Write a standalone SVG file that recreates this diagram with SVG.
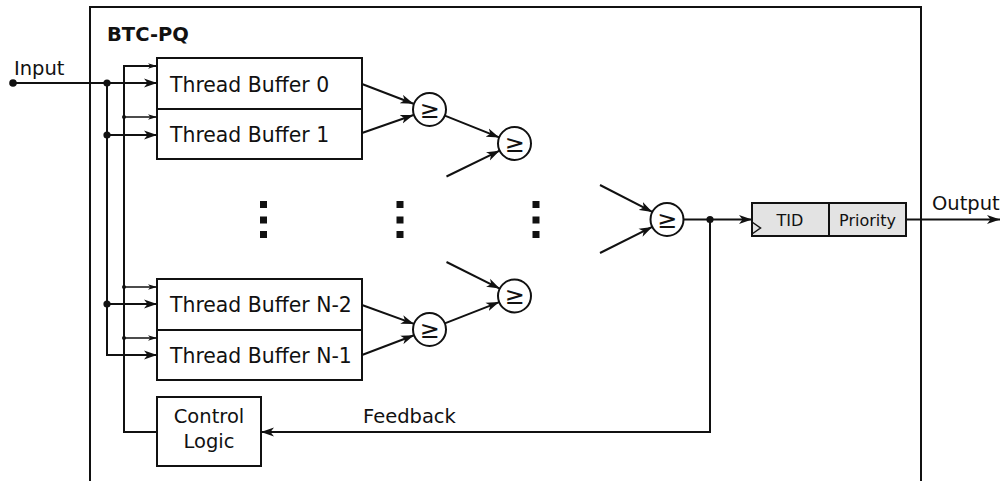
<svg xmlns="http://www.w3.org/2000/svg" width="1006" height="481" viewBox="0 0 1006 481">
  <style>
    .ln { fill: none; stroke: #111; stroke-width: 2; }
    .thin { fill: none; stroke: #111; stroke-width: 1.5; }
    .box { fill: #fff; stroke: #111; stroke-width: 2; }
    .reg { fill: #e3e3e3; stroke: #111; stroke-width: 2; }
    .cmp { fill: #fff; stroke: #111; stroke-width: 2; }
    .t { font-family: "DejaVu Sans", "Liberation Sans", sans-serif; font-size: 19.5px; fill: #111; }
    .tb { font-family: "DejaVu Sans", "Liberation Sans", sans-serif; font-size: 20.4px; fill: #111; }
    .ts { font-family: "DejaVu Sans", "Liberation Sans", sans-serif; font-size: 16px; fill: #111; }
    .ge { font-family: "DejaVu Sans", "Liberation Sans", sans-serif; font-size: 24px; fill: #111; }
    .b { font-weight: bold; }
    .dot { fill: #111; }
  </style>
  <defs>
    <marker id="arr" markerUnits="userSpaceOnUse" markerWidth="14" markerHeight="10" refX="13" refY="5" orient="auto">
      <path d="M0,0.5 L13,5 L0,9.5 L3.5,5 z" fill="#111"/>
    </marker>
    <marker id="arrS" markerUnits="userSpaceOnUse" markerWidth="10" markerHeight="7" refX="9" refY="3.5" orient="auto">
      <path d="M0,0.8 L9,3.5 L0,6.2 L2.5,3.5 z" fill="#111"/>
    </marker>
  </defs>

  <!-- enclosing BTC-PQ block (open at the bottom) -->
  <path class="ln" d="M90,481 V7 H921 V481"/>
  <text class="t b" x="107" y="41">BTC-PQ</text>

  <!-- thread buffers -->
  <g id="tb0"><rect class="box" x="157" y="58" width="205" height="51"/><text class="tb" x="170" y="91.5">Thread Buffer 0</text></g>
  <g id="tb1"><rect class="box" x="157" y="109" width="205" height="50"/><text class="tb" x="170" y="142">Thread Buffer 1</text></g>
  <g id="tbn2"><rect class="box" x="157" y="279" width="205" height="51"/><text class="tb" x="170" y="312">Thread Buffer N-2</text></g>
  <g id="tbn1"><rect class="box" x="157" y="330" width="205" height="50"/><text class="tb" x="170" y="362.5">Thread Buffer N-1</text></g>

  <!-- control logic -->
  <g id="ctrl">
    <rect class="box" x="157" y="397" width="104" height="69"/>
    <text class="t" x="209" y="423" text-anchor="middle">Control</text>
    <text class="t" x="209" y="448" text-anchor="middle">Logic</text>
  </g>

  <!-- comparators -->
  <g id="cmp1"><circle class="cmp" cx="429.5" cy="109.5" r="16.5"/><text class="ge" x="429.5" y="117.5" text-anchor="middle">≥</text></g>
  <g id="cmp2"><circle class="cmp" cx="514.5" cy="143.5" r="16.5"/><text class="ge" x="514.5" y="151.5" text-anchor="middle">≥</text></g>
  <g id="cmp3"><circle class="cmp" cx="429.5" cy="329.5" r="16.5"/><text class="ge" x="429.5" y="337.5" text-anchor="middle">≥</text></g>
  <g id="cmp4"><circle class="cmp" cx="514.5" cy="296" r="16.5"/><text class="ge" x="514.5" y="304" text-anchor="middle">≥</text></g>
  <g id="cmp5"><circle class="cmp" cx="667" cy="219.5" r="16.5"/><text class="ge" x="667" y="227.5" text-anchor="middle">≥</text></g>

  <!-- output register -->
  <g id="reg">
    <rect class="reg" x="752" y="203" width="154" height="33"/>
    <line class="ln" x1="829" y1="203" x2="829" y2="236"/>
    <path fill="none" stroke="#111" stroke-width="1.5" d="M752,222 L760.5,228 L752,234"/>
    <text class="ts" x="790" y="225.5" text-anchor="middle">TID</text>
    <text class="ts" x="867.5" y="225.5" text-anchor="middle">Priority</text>
  </g>

  <!-- ellipsis columns -->
  <g id="ellipsis" class="dot">
    <rect x="260" y="201" width="7" height="7"/><rect x="260" y="216.5" width="7" height="7"/><rect x="260" y="231" width="7" height="7"/>
    <rect x="396.5" y="201" width="7" height="7"/><rect x="396.5" y="216.5" width="7" height="7"/><rect x="396.5" y="231" width="7" height="7"/>
    <rect x="532.5" y="201" width="7" height="7"/><rect x="532.5" y="216.5" width="7" height="7"/><rect x="532.5" y="231" width="7" height="7"/>
  </g>

  <!-- connectors -->
  <g id="connectors">
    <!-- input bus -->
    <path class="ln" d="M13,83 H157" marker-end="url(#arr)"/>
    <path class="ln" d="M107,83 V355 H157" marker-end="url(#arr)"/>
    <path class="ln" d="M107,135 H157" marker-end="url(#arr)"/>
    <path class="ln" d="M107,304 H157" marker-end="url(#arr)"/>
    <circle class="dot" cx="13" cy="83" r="3.8"/>
    <circle class="dot" cx="107" cy="83" r="3.6"/>
    <circle class="dot" cx="107" cy="135" r="3.6"/>
    <circle class="dot" cx="107" cy="304" r="3.6"/>
    <text class="t" x="14" y="74.5">Input</text>

    <!-- control bus -->
    <path class="ln" d="M157,432 H124 V66 H157" marker-end="url(#arrS)"/>
    <path class="thin" d="M124,117 H157" marker-end="url(#arrS)"/>
    <path class="thin" d="M124,287 H157" marker-end="url(#arrS)"/>
    <path class="thin" d="M124,338 H157" marker-end="url(#arrS)"/>
    <circle class="dot" cx="124" cy="117" r="2"/>
    <circle class="dot" cx="124" cy="287" r="2"/>
    <circle class="dot" cx="124" cy="338" r="2"/>

    <!-- comparator tree -->
    <line class="ln" x1="362" y1="84" x2="413.5" y2="103.7" marker-end="url(#arr)"/>
    <line class="ln" x1="362" y1="133" x2="413.5" y2="115" marker-end="url(#arr)"/>
    <line class="ln" x1="444.8" y1="115.6" x2="499.2" y2="137.4" marker-end="url(#arr)"/>
    <line class="ln" x1="446.5" y1="176.5" x2="499.6" y2="150.7" marker-end="url(#arr)"/>
    <line class="ln" x1="362" y1="305" x2="414" y2="323.9" marker-end="url(#arr)"/>
    <line class="ln" x1="362" y1="355" x2="414" y2="335.3" marker-end="url(#arr)"/>
    <line class="ln" x1="444.8" y1="323.4" x2="499.2" y2="302.1" marker-end="url(#arr)"/>
    <line class="ln" x1="446.5" y1="262" x2="499.7" y2="288.6" marker-end="url(#arr)"/>
    <line class="ln" x1="600" y1="185" x2="652.3" y2="211.9" marker-end="url(#arr)"/>
    <line class="ln" x1="600" y1="253" x2="652.2" y2="226.9" marker-end="url(#arr)"/>

    <!-- result to register, feedback and output -->
    <path class="ln" d="M683.5,219.5 H752" marker-end="url(#arr)"/>
    <path class="ln" d="M710,219.5 V432 H261" marker-end="url(#arr)"/>
    <circle class="dot" cx="710" cy="219.5" r="3.6"/>
    <path class="ln" d="M906,219.5 H1000" marker-end="url(#arr)"/>
    <text class="t" x="363" y="423">Feedback</text>
    <text class="t" x="932" y="210">Output</text>
  </g>
</svg>
